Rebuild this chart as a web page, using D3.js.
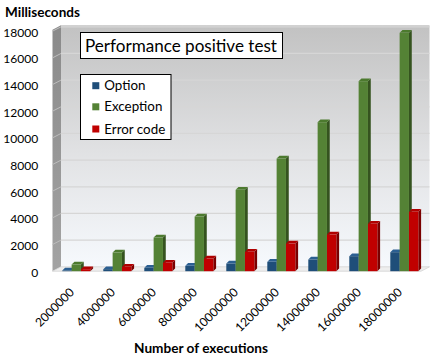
<!DOCTYPE html>
<html><head><meta charset="utf-8">
<script src="https://cdn.jsdelivr.net/npm/d3@7"></script>
<style>html,body{margin:0;padding:0;background:#fff;}svg{display:block;}</style>
</head><body>
<svg id="c" width="438" height="356"></svg>
<script>
const categories = ["2000000","4000000","6000000","8000000","10000000","12000000","14000000","16000000","18000000"];
const seriesNames = ["Option","Exception","Error code"];
const optionValues = [50, 150, 250, 400, 575, 700, 875, 1125, 1425];
const exceptionValues = [500, 1400, 2525, 4100, 6100, 8450, 11175, 14250, 17875];
const errorValues = [150, 325, 625, 950, 1450, 2075, 2750, 3550, 4450];
const yTicks = [0,2000,4000,6000,8000,10000,12000,14000,16000,18000];
const chartTitle = "Performance positive test";
const yTitle = "Milliseconds";
const xTitle = "Number of executions";

const colors = {
  front: ["#1f4e79","#548235","#c00000"],
  side:  ["#142f4a","#35531f","#7a0000"],
  top:   ["#2b5f92","#4c7a2e","#b00000"]
};
const seriesValues = [optionValues, exceptionValues, errorValues];
const FONT = "Lato, 'Open Sans', sans-serif";

const svg = d3.select("#c");
const depth = {dx: 8.5, dy: -4.4};   // wall depth
const bdepth = {dx: 2.8, dy: -2.8};  // bar depth

const y = d3.scaleLinear().domain([0,18000]).range([271.2, 31.2]);
const x = d3.scaleBand().domain(categories).range([55.8, 424.8]).paddingInner(0.317).paddingOuter(0.1585);
const xs = d3.scaleBand().domain(seriesNames).range([0, x.bandwidth()]);

const wallL = 52.5, wallR = 429.5 - depth.dx;

// gradients
const defs = svg.append("defs");
const g1 = defs.append("linearGradient").attr("id","wall").attr("x1",0).attr("y1",0).attr("x2",0).attr("y2",1);
g1.append("stop").attr("offset","0%").attr("stop-color","#c2c2c2");
g1.append("stop").attr("offset","55%").attr("stop-color","#e2e3e5");
g1.append("stop").attr("offset","100%").attr("stop-color","#f6f9fd");
const g2 = defs.append("linearGradient").attr("id","side").attr("x1",0).attr("y1",0).attr("x2",0).attr("y2",1);
g2.append("stop").attr("offset","0%").attr("stop-color","#8a8a8a");
g2.append("stop").attr("offset","100%").attr("stop-color","#a3a3a3");

const line = d3.line();
// back wall
const yb = v => y(v) + depth.dy;
svg.append("path").attr("fill","url(#wall)")
  .attr("d", line([[wallL+depth.dx, yb(18000)-1.5],[wallR+depth.dx, yb(18000)-1.5],[wallR+depth.dx, yb(0)],[wallL+depth.dx, yb(0)]])+"Z");
// side wall
svg.append("path").attr("fill","url(#side)")
  .attr("d", line([[wallL, y(18000)-1.5],[wallL+depth.dx, yb(18000)-1.5],[wallL+depth.dx, yb(0)],[wallL, y(0)]])+"Z");
// floor
svg.append("path").attr("fill","#eeeeee").attr("stroke","#d2d2d2").attr("stroke-width",0.8)
  .attr("d", line([[wallL, y(0)],[wallR, y(0)],[wallR+depth.dx, yb(0)],[wallL+depth.dx, yb(0)]])+"Z");

// gridlines
const grid = svg.append("g");
grid.selectAll("line.g").data(yTicks.filter(v=>v>0)).join("line")
  .attr("x1", wallL+depth.dx).attr("x2", wallR+depth.dx)
  .attr("y1", d=>yb(d)).attr("y2", d=>yb(d))
  .attr("stroke","#d6d6d6").attr("stroke-width",1.3);
grid.selectAll("line.s").data(yTicks.filter(v=>v>0)).join("line")
  .attr("x1", wallL).attr("x2", wallL+depth.dx)
  .attr("y1", d=>y(d)).attr("y2", d=>yb(d))
  .attr("stroke","#bdbdbd").attr("stroke-width",1);

// bars
const bars = svg.append("g");
categories.forEach((c, i) => {
  seriesNames.forEach((s, k) => {
    const v = seriesValues[k][i];
    const x0 = x(c) + xs(s), w = xs.bandwidth();
    const yt = y(v), y0 = y(0);
    const g = bars.append("g");
    // side
    g.append("path").attr("fill", colors.side[k])
      .attr("d", line([[x0+w, yt],[x0+w+bdepth.dx, yt+bdepth.dy],[x0+w+bdepth.dx, y0+bdepth.dy],[x0+w, y0]])+"Z");
    // top
    g.append("path").attr("fill", colors.top[k])
      .attr("d", line([[x0, yt],[x0+bdepth.dx, yt+bdepth.dy],[x0+w+bdepth.dx, yt+bdepth.dy],[x0+w, yt]])+"Z");
    // front
    g.append("rect").attr("x", x0).attr("y", yt).attr("width", w).attr("height", y0-yt)
      .attr("fill", colors.front[k]);
  });
});

function fit(sel, target){
  const n = sel.node();
  const fs = parseFloat(sel.attr("font-size"));
  const len = n.getComputedTextLength();
  const nf = fs*target/len;
  sel.attr("font-size", nf);
  return nf;
}

// y labels
const yl = svg.append("g").attr("font-family", FONT).attr("fill","#000");
const probe = yl.append("text").attr("font-size",13).text("18000");
const yfs = fit(probe, 35);
probe.remove();
yl.selectAll("text").data(yTicks).join("text")
  .attr("x", 38.3).attr("y", d=>y(d)+1.3).attr("dy","0.35em")
  .attr("text-anchor","end").attr("font-size", yfs).text(d=>d);

// x labels
const xl = svg.append("g").attr("font-family", FONT).attr("fill","#000");
xl.selectAll("text").data(categories).join("text")
  .attr("text-anchor","end").attr("font-size", yfs)
  .attr("transform", d=>`translate(${x(d)+x.bandwidth()/2-1.4},293) rotate(-45)`)
  .text(d=>d);

// titles
const yt = svg.append("text").attr("font-family",FONT).attr("font-weight","bold").attr("font-size",13)
  .attr("x",5).attr("y",17).text(yTitle);
fit(yt, 75);
const xt = svg.append("text").attr("font-family",FONT).attr("font-weight","bold").attr("font-size",13)
  .attr("x",201).attr("y",352.5).attr("text-anchor","middle").text(xTitle);
fit(xt, 134);

// chart title box
svg.append("rect").attr("x",80.5).attr("y",32.5).attr("width",202).attr("height",26)
  .attr("fill","#fff").attr("stroke","#000").attr("stroke-width",1);
const tt = svg.append("text").attr("font-family",FONT).attr("font-size",17)
  .attr("x",85).attr("y",45.7).attr("dy","0.35em").text(chartTitle);
fit(tt, 192);

// legend
const lg = svg.append("g");
lg.append("rect").attr("x",80.5).attr("y",74.5).attr("width",90.5).attr("height",65)
  .attr("fill","#fff").attr("stroke","#000").attr("stroke-width",1);
const rowsY = [85.7, 106.8, 129];
const lprobe = lg.append("text").attr("font-family",FONT).attr("font-size",13).text("Error code");
const lfs = fit(lprobe, 61);
lprobe.remove();
seriesNames.forEach((s,k)=>{
  lg.append("rect").attr("x",92.3).attr("y",rowsY[k]-3.5).attr("width",7).attr("height",7).attr("fill",colors.front[k]);
  lg.append("text").attr("font-family",FONT).attr("font-size",lfs)
    .attr("x",104.3).attr("y",rowsY[k]).attr("dy","0.35em").text(s);
});
</script>
</body></html>
